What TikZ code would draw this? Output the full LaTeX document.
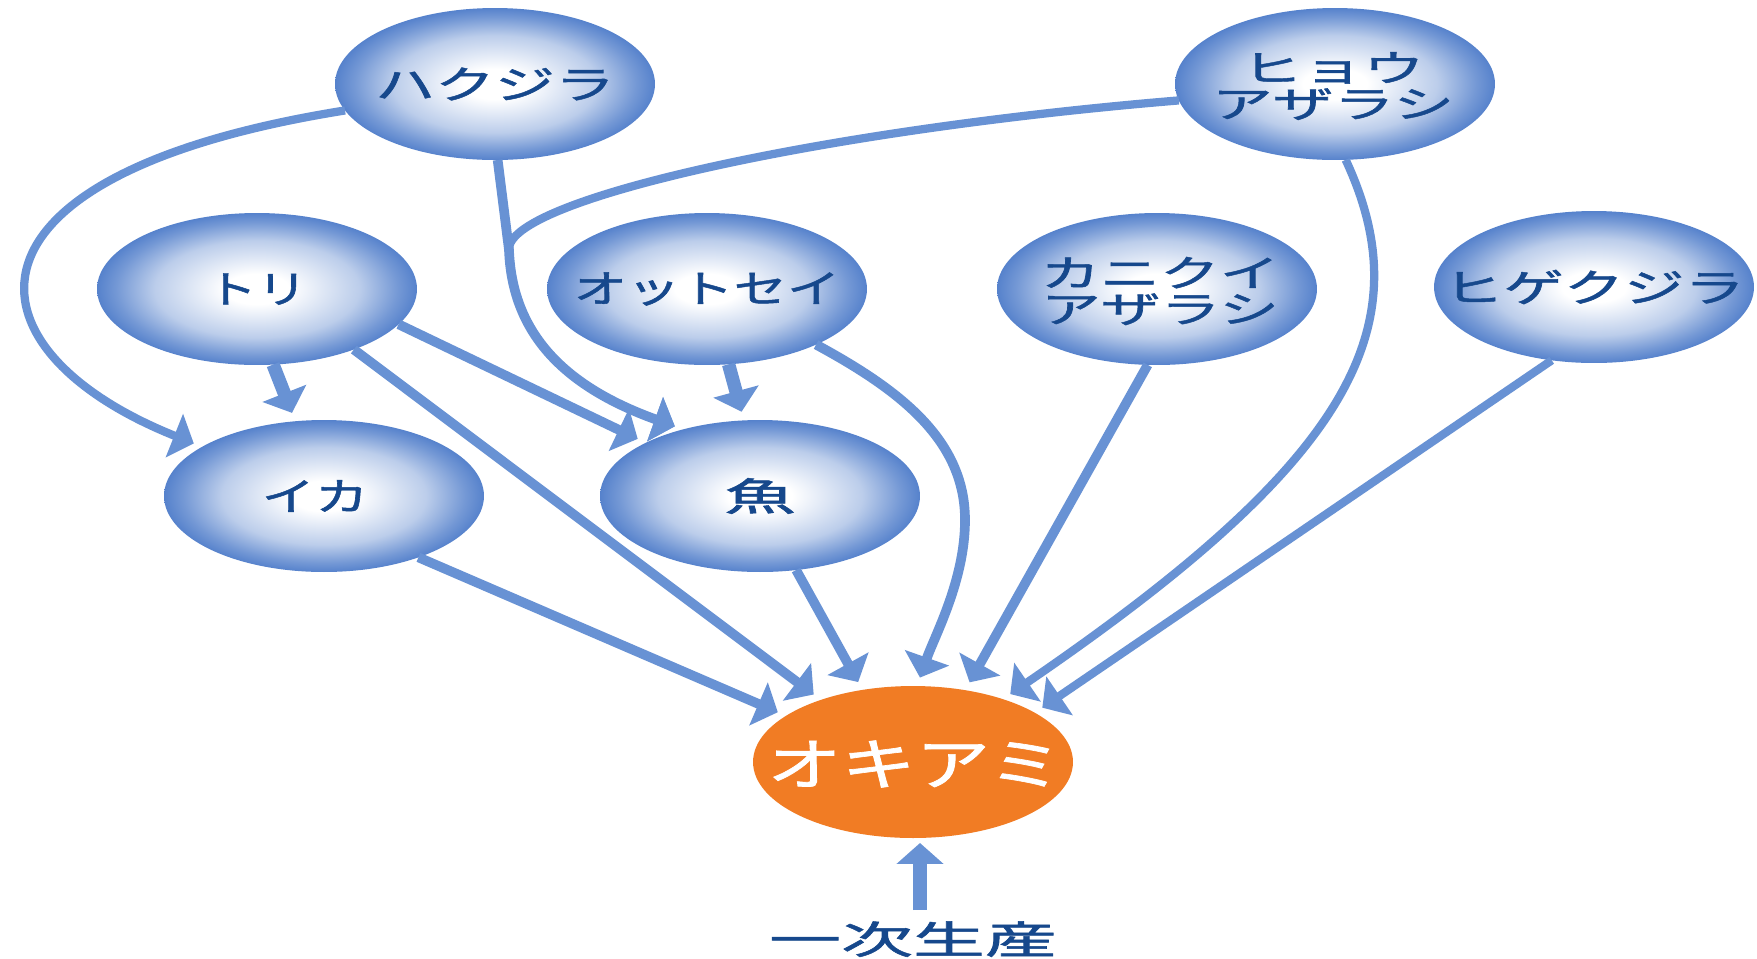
\documentclass[tikz,border=0pt]{standalone}
\usepackage{fontspec}
\setmainfont{Noto Sans CJK JP}[FakeBold=1.2]
\usepackage{graphicx}
\usetikzlibrary{arrows.meta,calc,shapes.geometric}
\definecolor{nodeblue}{RGB}{86,130,204}
\definecolor{arrowblue}{RGB}{104,146,212}
\definecolor{txtblue}{RGB}{22,72,140}
\definecolor{krill}{RGB}{241,124,36}
\pgfdeclareradialshading{bubbleshade}{\pgfpoint{0bp}{0bp}}{color(0bp)=(white); color(5bp)=(white); color(16bp)=(nodeblue!40); color(22bp)=(nodeblue!82); color(25bp)=(nodeblue); color(50bp)=(nodeblue)}
\begin{document}
\begin{tikzpicture}[x=0.02cm,y=-0.02cm,
  bubblenode/.style={ellipse, minimum width=6.4cm, minimum height=3.04cm, inner sep=0pt, outer sep=0pt, shade, shading=bubbleshade},
  krillnode/.style={ellipse, minimum width=6.4cm, minimum height=3.04cm, inner sep=0pt, outer sep=0pt, fill=krill},
  lbl/.style={text=txtblue, font=\fontsize{22}{22}\selectfont, align=center, inner sep=0pt},
  lbltwo/.style={lbl, font=\fontsize{21}{20.5}\selectfont},
  arr/.style={draw=arrowblue, line width=5.5pt, -{Triangle[length=0.42cm,width=0.92cm]}, shorten >=0.18cm},
  thinarr/.style={arr, line width=4.7pt},
  thickarr/.style={arr, line width=7.6pt}]
\useasboundingbox[fill=white] (0,0) rectangle (1757,958);

% nodes
\node[bubblenode] (hakujira) at (495,84) {};
\node[bubblenode] (hyou) at (1335,84) {};
\node[bubblenode] (tori) at (257,289) {};
\node[bubblenode] (ottosei) at (707,289) {};
\node[bubblenode] (kanikui) at (1157,289) {};
\node[bubblenode] (higekujira) at (1594,287) {};
\node[bubblenode] (ika) at (324,496) {};
\node[bubblenode] (sakana) at (760,496) {};
\node[krillnode] (okiami) at (913,762) {};

\node[lbl] (hakujira-t) at (hakujira) {\scalebox{1.55}[1]{ハクジラ}};
\node[lbltwo] (hyou-t) at (1333,86) {\scalebox{1.65}[1]{ヒョウ}\\\scalebox{1.65}[1]{アザラシ}};
\node[lbl] (tori-t) at (tori) {\scalebox{1.3}[1]{トリ}};
\node[lbl] (ottosei-t) at (ottosei) {\scalebox{1.38}[1]{オットセイ}};
\node[lbltwo] (kanikui-t) at (1160,291) {\scalebox{1.62}[1]{カニクイ}\\\scalebox{1.62}[1]{アザラシ}};
\node[lbl] (higekujira-t) at (higekujira) {\scalebox{1.56}[1]{ヒゲクジラ}};
\node[lbl] (ika-t) at (315,496) {\scalebox{1.38}[1]{イカ}};
\node[lbl] (sakana-t) at (sakana) {\scalebox{1.86}[1]{魚}};
\node[lbl, text=white, font=\fontsize{32}{34}\selectfont] (okiami-t) at (915,764) {\scalebox{1.32}[1]{オキアミ}};
\node[lbl, font=\fontsize{22}{24}\selectfont, anchor=north] (seisan) at (913,921) {\scalebox{1.86}[1]{一次生産}};

\coordinate (J) at (509,250);

% connectors
\draw[thinarr] (hyou.186) .. controls (820,130) and (505,200) .. (J) .. controls (512,330) and (560,385) .. (sakana.139);
\draw[arr] (hakujira.-88) -- (J) .. controls (512,330) and (560,385) .. (sakana.139);
\draw[thinarr] (hakujira.190) .. controls (-60,175) and (-40,350) .. (ika.158);
\draw[thickarr] (tori.-78) -- (ika.111);
\draw[arr] (tori.-14) -- (sakana.155);
\draw[arr] (tori.-32) -- (okiami.146);
\draw[arr] (ika.-33) -- (okiami.160);
\draw[arr] (sakana.-64) -- (okiami.125);
\draw[thickarr] (ottosei.-74) -- (sakana.102);
\draw[arr] (ottosei.-27) .. controls (900,390) and (965,440) .. (965,520) .. controls (965,580) and (935,635) .. (okiami.87);
\draw[arr] (kanikui.-97) -- (okiami.54);
\draw[thinarr] (hyou.-82) .. controls (1425,330) and (1345,465) .. (okiami.35);
\draw[thinarr] (higekujira.240) -- (okiami.22);
\draw[thickarr, shorten >=0.1cm] ($(seisan.north)+(7,-11)$) -- ($(okiami.south)+(7,0)$);
\end{tikzpicture}
\end{document}
